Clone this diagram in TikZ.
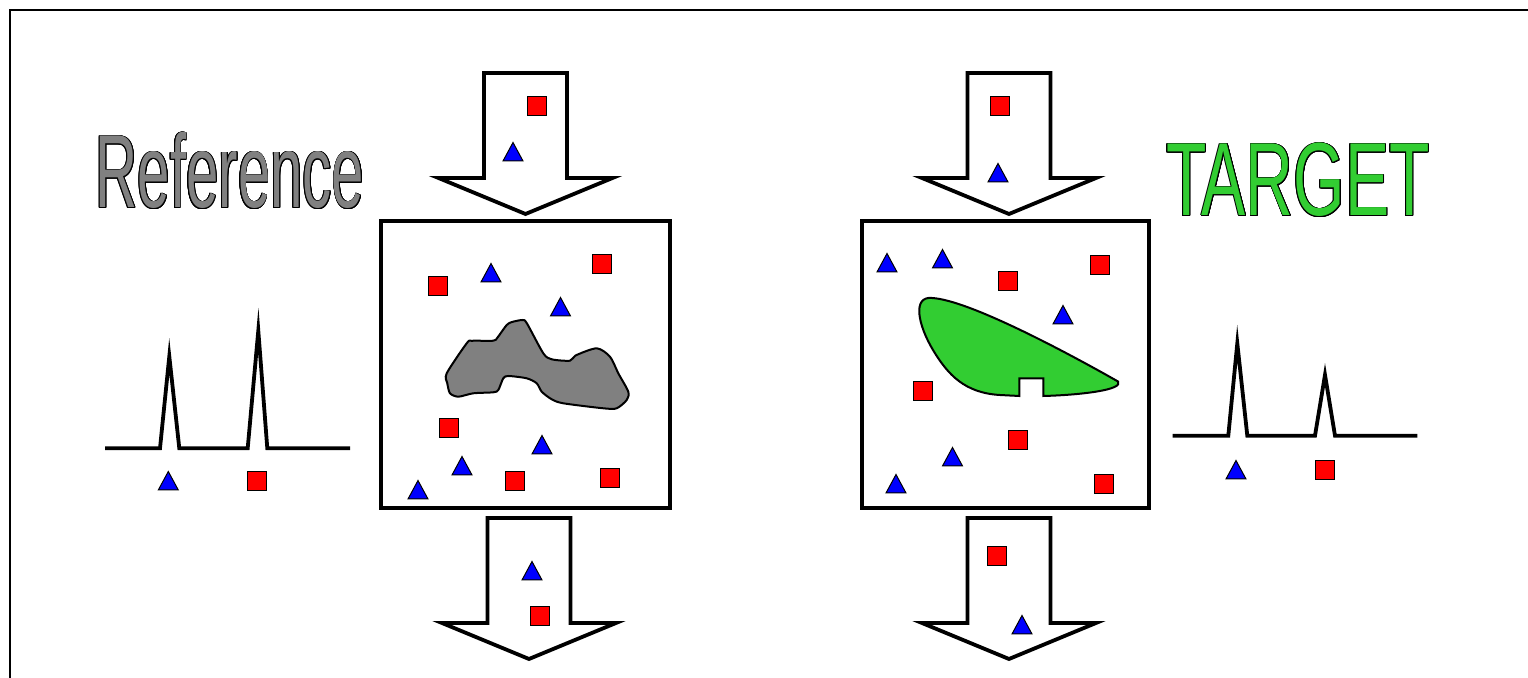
\documentclass[tikz,border=0pt]{standalone}
\usepackage{fontspec}
\usepackage{graphicx}
\setmainfont{Liberation Sans}
\definecolor{mygreen}{RGB}{50,205,50}
\definecolor{mygray}{RGB}{128,128,128}
\begin{document}
\begin{tikzpicture}[x=0.5pt,y=-0.5pt,
  framestyle/.style={line width=0.7pt,draw=black},
  boxstyle/.style={line width=2.3pt,draw=black,fill=white},
  arrowstyle/.style={line width=1.9pt,draw=black,fill=white,line join=miter,miter limit=20},
  peakstyle/.style={line width=1.9pt,draw=black,line join=miter,miter limit=20},
  sqstyle/.style={line width=0.5pt,draw=black,fill=red},
  tristyle/.style={line width=0.5pt,draw=black,fill=blue,line join=miter},
  blobstyle/.style={line width=1pt,draw=black},
  pics/sq/.style={code={\path[sqstyle] (-9.5,-9.5) rectangle (9.5,9.5);}},
  pics/tri/.style={code={\path[tristyle] (-10,9) -- (10,9) -- (0,-9.5) -- cycle;}},
  pics/downarrow/.style={code={\path[arrowstyle] (-41.5,0) -- (41.5,0) -- (41.5,105) -- (87,105) -- (0,141) -- (-87,105) -- (-41.5,105) -- cycle;}},
  bigtext/.style={anchor=base,inner sep=0pt,outer sep=0pt}
]
\useasboundingbox (0,0) rectangle (1528,678);
\fill[white] (0,0) rectangle (1528,678);
% frame
\draw[framestyle] (10,700) -- (10,10) -- (1550,10);

% titles
\foreach \a in {0,22.5,...,337.5}{
  \node[bigtext,text=black,xshift={0.45pt*cos(\a)},yshift={0.45pt*sin(\a)}] at (230,208)
    {\scalebox{0.56}[1]{\fontsize{52}{52}\selectfont Reference}};
  \node[bigtext,text=black,xshift={0.45pt*cos(\a)},yshift={0.45pt*sin(\a)}] at (1298,216)
    {\scalebox{0.636}[1]{\fontsize{52}{52}\selectfont TARGET}};
}
\node[bigtext,text=mygray] (reflabel) at (230,208) {\scalebox{0.56}[1]{\fontsize{52}{52}\selectfont Reference}};
\node[bigtext,text=mygreen] (tgtlabel) at (1298,216) {\scalebox{0.636}[1]{\fontsize{52}{52}\selectfont TARGET}};

% arrows
\pic at (525.5,73) {downarrow};
\pic at (1009,73) {downarrow};
\pic at (529,518) {downarrow};
\pic at (1009,518) {downarrow};

% boxes
\path[boxstyle] (381,221) rectangle (670,508);
\path[boxstyle] (862,221) rectangle (1149,508);

% gray blob
\path[blobstyle,fill=mygray] plot[smooth cycle,tension=0.45] coordinates {
 (446.7,373.3) (466.7,343.3) (472,340.8) (493.3,340.7) (497.5,337.5) (506.7,325) (512,322)
 (522.7,320) (527,323.5) (543.3,353.3) (551.7,359.3) (570,360.7) (575.5,355.5)
 (596.7,348.3) (610,356.7) (618.3,373.3) (628.3,391.7) (626.7,400) (616.7,408.3)
 (603.3,408.3) (563.3,403.3) (551.7,399.3) (541.7,391.7) (536.7,383.3) (526.7,378.3)
 (508.3,376) (503.3,378.3) (498.3,390) (493.3,392.3) (473.3,393.3) (458.3,396.7)
 (450,393.3) (447.3,383.3)};

% green blob
\path[blobstyle,fill=mygreen,line join=miter] (1043.3,396)
 .. controls (1080,395) and (1124,390) .. (1118,381.5)
 .. controls (1075,357) and (970,300) .. (932,298)
 .. controls (912,296) and (918,325) .. (933,350)
 .. controls (948,375) and (965,393) .. (1000,395)
 -- (1019.3,396) -- (1019.3,378.3) -- (1043.3,378.3) -- cycle;

% markers in arrows
\pic at (536.5,106.5) {sq};
\pic at (513,152) {tri};
\pic at (999.5,106.5) {sq};
\pic at (998,173) {tri};
\pic at (532,571) {tri};
\pic at (539.5,616) {sq};
\pic at (997,556) {sq};
\pic at (1022,625) {tri};

% markers in left box
\pic at (438,286) {sq};
\pic at (491,273) {tri};
\pic at (602,264) {sq};
\pic at (560.5,307) {tri};
\pic at (449,428) {sq};
\pic at (542,445) {tri};
\pic at (462,466) {tri};
\pic at (418,490) {tri};
\pic at (514.5,481) {sq};
\pic at (609.5,478) {sq};

% markers in right box
\pic at (887,263) {tri};
\pic at (942.5,259) {tri};
\pic at (1008,281) {sq};
\pic at (1100,265) {sq};
\pic at (1063,315) {tri};
\pic at (923,391) {sq};
\pic at (1018,440) {sq};
\pic at (952.5,457) {tri};
\pic at (896,484) {tri};
\pic at (1104,484) {sq};

% chromatogram left
\path[peakstyle] (105,448.3) -- (160,448.3) -- (169.3,356.4) -- (179.3,448.3) -- (247.7,448.3)
  -- (258.3,330.7) -- (267.3,448.3) -- (350,448.3);
\pic at (168.3,481) {tri};
\pic at (256.7,481) {sq};

% chromatogram right
\path[peakstyle] (1172.7,435.7) -- (1228.3,435.7) -- (1237.3,343.4) -- (1247.3,435.7) -- (1315,435.7)
  -- (1325,374.9) -- (1335,435.7) -- (1417.3,435.7);
\pic at (1236,470) {tri};
\pic at (1324.5,470.5) {sq};
\end{tikzpicture}
\end{document}
